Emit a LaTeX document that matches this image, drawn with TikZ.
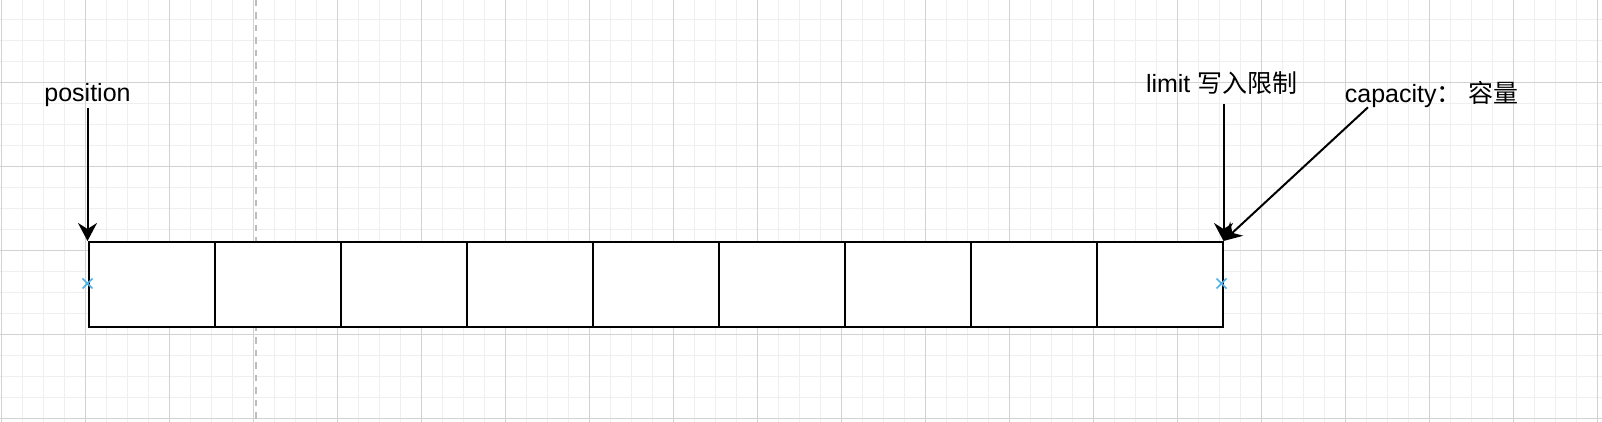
\documentclass[tikz,border=0pt]{standalone}
\usepackage{fontspec}
\setmainfont{Liberation Sans}
\newfontfamily\cjk{Noto Sans CJK SC}
\usetikzlibrary{arrows.meta}
\definecolor{gridminor}{HTML}{EFEFEF}
\definecolor{gridmajor}{HTML}{D2D2D2}
\definecolor{pagebreak}{HTML}{BDBDBD}
\definecolor{markblue}{HTML}{4FB0E8}
\tikzset{
  minorline/.style={draw=gridminor, line width=0.5pt},
  majorline/.style={draw=gridmajor, line width=0.5pt},
  cellbox/.style={draw=black, line width=1pt, minimum width=63pt, minimum height=42.5pt, inner sep=0pt, anchor=north west, fill=white},
  lbl/.style={inner sep=0pt, font=\fontsize{12.5pt}{14pt}\selectfont},
  arr/.style={draw=black, line width=1pt, -{Stealth[length=9pt,width=9.5pt,inset=3pt]}},
  xmark/.style={draw=markblue, line width=0.8pt}
}
\begin{document}
\begin{tikzpicture}[x=0.5pt,y=-0.5pt]
\useasboundingbox (0,0) rectangle (1602,422);
\fill[white] (0,0) rectangle (1602,422);
% grid
\foreach \i in {0,...,76} \draw[minorline] ({1.3+21*\i},0) -- ({1.3+21*\i},422);
\foreach \j in {1,...,20} \draw[minorline] (0,{-1.7+21*\j}) -- (1602,{-1.7+21*\j});
\foreach \i in {0,...,19} \draw[majorline] ({1.3+84*\i},0) -- ({1.3+84*\i},422);
\foreach \j in {1,...,5} \draw[majorline] (0,{-1.7+84*\j}) -- (1602,{-1.7+84*\j});
\draw[draw=pagebreak, line width=1pt, dash pattern=on 3.25pt off 3pt] (255.7,0) -- (255.7,422);
% cells
\foreach \k in {1,...,9} \node[cellbox] (c\k) at ({87.5+126*(\k-1)},241) {};
% markers
\draw[xmark] (82.5,278.5) -- (92.5,288.5) (82.5,288.5) -- (92.5,278.5);
\draw[xmark] (1216.5,278.5) -- (1226.5,288.5) (1216.5,288.5) -- (1226.5,278.5);
% labels
\node[lbl, anchor=base] (pos) at (87.5,102) {position};
\node[lbl, anchor=base] (lim) at (1221.7,93) {limit {\cjk 写入限制}};
\node[lbl, anchor=base west] (cap) at (1344.5,102.7) {capacity{\cjk ：} {\cjk 容量}};
% arrows
\coordinate (limfoot) at ([yshift=-4.5pt]lim.south);
\coordinate (capfoot) at ([xshift=11.75pt,yshift=0.5pt]cap.south west);
\draw[arr] (pos.south) -- (c1.north west);
\draw[arr] (limfoot -| c9.north east) -- (c9.north east);
\draw[arr] (capfoot) -- (c9.north east);
\end{tikzpicture}
\end{document}
